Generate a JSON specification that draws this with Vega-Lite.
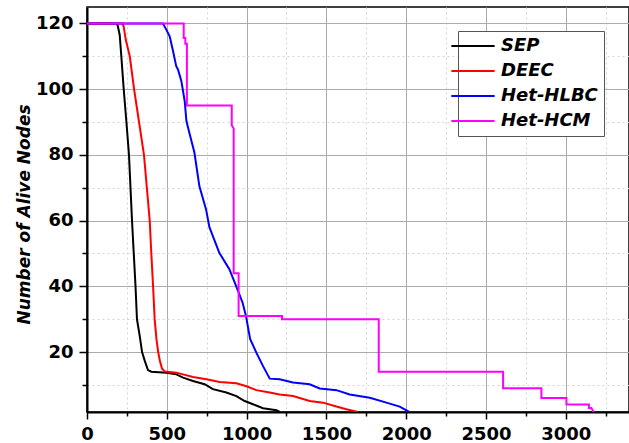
{
  "$schema": "https://vega.github.io/schema/vega-lite/v6.json",
  "width": 542,
  "height": 405,
  "autosize": {"type": "none"},
  "padding": {"left": 87, "top": 7, "right": 0, "bottom": 31},
  "background": "white",
  "config": {
    "font": "DejaVu Sans",
    "view": {"stroke": "black", "strokeWidth": 1.5}
  },
  "data": {
    "values": [
      {"s": "SEP", "i": 0, "x": 0, "y": 120},
      {"s": "SEP", "i": 1, "x": 184, "y": 120},
      {"s": "SEP", "i": 2, "x": 192, "y": 119.4},
      {"s": "SEP", "i": 3, "x": 205, "y": 116.5},
      {"s": "SEP", "i": 4, "x": 215, "y": 110},
      {"s": "SEP", "i": 5, "x": 230, "y": 100},
      {"s": "SEP", "i": 6, "x": 247, "y": 90},
      {"s": "SEP", "i": 7, "x": 263, "y": 80},
      {"s": "SEP", "i": 8, "x": 282, "y": 60},
      {"s": "SEP", "i": 9, "x": 293, "y": 50},
      {"s": "SEP", "i": 10, "x": 304, "y": 40},
      {"s": "SEP", "i": 11, "x": 313, "y": 30},
      {"s": "SEP", "i": 12, "x": 330, "y": 25},
      {"s": "SEP", "i": 13, "x": 345, "y": 20},
      {"s": "SEP", "i": 14, "x": 362, "y": 17.3},
      {"s": "SEP", "i": 15, "x": 382, "y": 14.5},
      {"s": "SEP", "i": 16, "x": 403, "y": 14},
      {"s": "SEP", "i": 17, "x": 497, "y": 13.7},
      {"s": "SEP", "i": 18, "x": 560, "y": 13.2},
      {"s": "SEP", "i": 19, "x": 602, "y": 12.2},
      {"s": "SEP", "i": 20, "x": 664, "y": 11.2},
      {"s": "SEP", "i": 21, "x": 737, "y": 10.2},
      {"s": "SEP", "i": 22, "x": 789, "y": 8.7},
      {"s": "SEP", "i": 23, "x": 873, "y": 7.7},
      {"s": "SEP", "i": 24, "x": 936, "y": 6.6},
      {"s": "SEP", "i": 25, "x": 988, "y": 5.1},
      {"s": "SEP", "i": 26, "x": 1040, "y": 4.1},
      {"s": "SEP", "i": 27, "x": 1103, "y": 2.9},
      {"s": "SEP", "i": 28, "x": 1187, "y": 2.3},
      {"s": "SEP", "i": 29, "x": 1208, "y": 1.75},
      {"s": "DEEC", "i": 0, "x": 0, "y": 120},
      {"s": "DEEC", "i": 1, "x": 222, "y": 120},
      {"s": "DEEC", "i": 2, "x": 230, "y": 119},
      {"s": "DEEC", "i": 3, "x": 243, "y": 115},
      {"s": "DEEC", "i": 4, "x": 268, "y": 110},
      {"s": "DEEC", "i": 5, "x": 295, "y": 100},
      {"s": "DEEC", "i": 6, "x": 326, "y": 90},
      {"s": "DEEC", "i": 7, "x": 357, "y": 80},
      {"s": "DEEC", "i": 8, "x": 375, "y": 70},
      {"s": "DEEC", "i": 9, "x": 393, "y": 60},
      {"s": "DEEC", "i": 10, "x": 403, "y": 50},
      {"s": "DEEC", "i": 11, "x": 414, "y": 40},
      {"s": "DEEC", "i": 12, "x": 424, "y": 30},
      {"s": "DEEC", "i": 13, "x": 435, "y": 24},
      {"s": "DEEC", "i": 14, "x": 446, "y": 20},
      {"s": "DEEC", "i": 15, "x": 458, "y": 17},
      {"s": "DEEC", "i": 16, "x": 470, "y": 15},
      {"s": "DEEC", "i": 17, "x": 486, "y": 14.1},
      {"s": "DEEC", "i": 18, "x": 560, "y": 13.7},
      {"s": "DEEC", "i": 19, "x": 602, "y": 13.2},
      {"s": "DEEC", "i": 20, "x": 664, "y": 12.4},
      {"s": "DEEC", "i": 21, "x": 748, "y": 11.7},
      {"s": "DEEC", "i": 22, "x": 832, "y": 10.9},
      {"s": "DEEC", "i": 23, "x": 936, "y": 10.5},
      {"s": "DEEC", "i": 24, "x": 999, "y": 9.6},
      {"s": "DEEC", "i": 25, "x": 1061, "y": 8.4},
      {"s": "DEEC", "i": 26, "x": 1145, "y": 7.7},
      {"s": "DEEC", "i": 27, "x": 1207, "y": 7.1},
      {"s": "DEEC", "i": 28, "x": 1291, "y": 6.6},
      {"s": "DEEC", "i": 29, "x": 1395, "y": 5.1},
      {"s": "DEEC", "i": 30, "x": 1479, "y": 4.6},
      {"s": "DEEC", "i": 31, "x": 1563, "y": 3.4},
      {"s": "DEEC", "i": 32, "x": 1625, "y": 2.6},
      {"s": "DEEC", "i": 33, "x": 1698, "y": 1.75},
      {"s": "Het-HLBC", "i": 0, "x": 0, "y": 120},
      {"s": "Het-HLBC", "i": 1, "x": 476, "y": 120},
      {"s": "Het-HLBC", "i": 2, "x": 496, "y": 118.2},
      {"s": "Het-HLBC", "i": 3, "x": 518, "y": 116.1},
      {"s": "Het-HLBC", "i": 4, "x": 539, "y": 111.6},
      {"s": "Het-HLBC", "i": 5, "x": 559, "y": 107},
      {"s": "Het-HLBC", "i": 6, "x": 570, "y": 106},
      {"s": "Het-HLBC", "i": 7, "x": 591, "y": 102.5},
      {"s": "Het-HLBC", "i": 8, "x": 612, "y": 96.4},
      {"s": "Het-HLBC", "i": 9, "x": 623, "y": 90.3},
      {"s": "Het-HLBC", "i": 10, "x": 644, "y": 86.2},
      {"s": "Het-HLBC", "i": 11, "x": 673, "y": 80.7},
      {"s": "Het-HLBC", "i": 12, "x": 704, "y": 70.5},
      {"s": "Het-HLBC", "i": 13, "x": 746, "y": 63.4},
      {"s": "Het-HLBC", "i": 14, "x": 767, "y": 58},
      {"s": "Het-HLBC", "i": 15, "x": 829, "y": 50.2},
      {"s": "Het-HLBC", "i": 16, "x": 892, "y": 45.2},
      {"s": "Het-HLBC", "i": 17, "x": 934, "y": 40.1},
      {"s": "Het-HLBC", "i": 18, "x": 975, "y": 35},
      {"s": "Het-HLBC", "i": 19, "x": 996, "y": 31},
      {"s": "Het-HLBC", "i": 20, "x": 1022, "y": 24},
      {"s": "Het-HLBC", "i": 21, "x": 1061, "y": 19.8},
      {"s": "Het-HLBC", "i": 22, "x": 1103, "y": 15.7},
      {"s": "Het-HLBC", "i": 23, "x": 1145, "y": 11.9},
      {"s": "Het-HLBC", "i": 24, "x": 1207, "y": 11.7},
      {"s": "Het-HLBC", "i": 25, "x": 1291, "y": 10.7},
      {"s": "Het-HLBC", "i": 26, "x": 1395, "y": 10.2},
      {"s": "Het-HLBC", "i": 27, "x": 1458, "y": 8.9},
      {"s": "Het-HLBC", "i": 28, "x": 1563, "y": 8.4},
      {"s": "Het-HLBC", "i": 29, "x": 1646, "y": 7.1},
      {"s": "Het-HLBC", "i": 30, "x": 1772, "y": 6.1},
      {"s": "Het-HLBC", "i": 31, "x": 1876, "y": 4.6},
      {"s": "Het-HLBC", "i": 32, "x": 1959, "y": 3.4},
      {"s": "Het-HLBC", "i": 33, "x": 2011, "y": 2.0},
      {"s": "Het-HLBC", "i": 34, "x": 2020, "y": 1.75},
      {"s": "Het-HCM", "i": 0, "x": 0, "y": 120},
      {"s": "Het-HCM", "i": 1, "x": 606, "y": 120},
      {"s": "Het-HCM", "i": 2, "x": 606, "y": 115.6},
      {"s": "Het-HCM", "i": 3, "x": 616, "y": 115.6},
      {"s": "Het-HCM", "i": 4, "x": 616, "y": 113.8},
      {"s": "Het-HCM", "i": 5, "x": 626, "y": 113.8},
      {"s": "Het-HCM", "i": 6, "x": 626, "y": 95},
      {"s": "Het-HCM", "i": 7, "x": 907, "y": 95},
      {"s": "Het-HCM", "i": 8, "x": 907, "y": 89},
      {"s": "Het-HCM", "i": 9, "x": 919, "y": 88},
      {"s": "Het-HCM", "i": 10, "x": 919, "y": 44},
      {"s": "Het-HCM", "i": 11, "x": 950, "y": 44},
      {"s": "Het-HCM", "i": 12, "x": 950, "y": 31},
      {"s": "Het-HCM", "i": 13, "x": 1222, "y": 31},
      {"s": "Het-HCM", "i": 14, "x": 1222, "y": 30},
      {"s": "Het-HCM", "i": 15, "x": 1828, "y": 30},
      {"s": "Het-HCM", "i": 16, "x": 1828, "y": 14},
      {"s": "Het-HCM", "i": 17, "x": 2607, "y": 14},
      {"s": "Het-HCM", "i": 18, "x": 2607, "y": 9},
      {"s": "Het-HCM", "i": 19, "x": 2847, "y": 9},
      {"s": "Het-HCM", "i": 20, "x": 2847, "y": 6},
      {"s": "Het-HCM", "i": 21, "x": 3004, "y": 6},
      {"s": "Het-HCM", "i": 22, "x": 3004, "y": 4},
      {"s": "Het-HCM", "i": 23, "x": 3145, "y": 4},
      {"s": "Het-HCM", "i": 24, "x": 3145, "y": 3},
      {"s": "Het-HCM", "i": 25, "x": 3160, "y": 3},
      {"s": "Het-HCM", "i": 26, "x": 3175, "y": 1.75}
    ]
  },
  "mark": {"type": "line", "strokeWidth": 2, "clip": true},
  "encoding": {
    "x": {
      "field": "x",
      "type": "quantitative",
      "scale": {"domain": [0, 3396], "nice": false, "zero": false},
      "axis": {
        "title": null,
        "values": [0, 250, 500, 750, 1000, 1250, 1500, 1750, 2000, 2250, 2500, 2750, 3000, 3250],
        "labelExpr": "datum.value % 500 === 0 ? format(datum.value, 'd') : ''",
        "labelFont": "DejaVu Sans",
        "labelFontWeight": "bold",
        "labelFontSize": 18,
        "labelColor": "black",
        "labelPadding": 6,
        "labelFlush": false,
        "labelOverlap": false,
        "domainColor": "black",
        "domainWidth": 2,
        "tickColor": "black",
        "tickWidth": 1.5,
        "tickSize": {"condition": {"test": "datum.value % 500 !== 0", "value": 4}, "value": 7},
        "grid": true,
        "gridColor": {"condition": {"test": "datum.value % 500 !== 0", "value": "#d4d4d4"}, "value": "#ababab"},
        "gridDash": {"condition": {"test": "datum.value % 500 !== 0", "value": [2, 3]}, "value": []},
        "gridWidth": 1
      }
    },
    "y": {
      "field": "y",
      "type": "quantitative",
      "scale": {"domain": [1.75, 125], "nice": false, "zero": false},
      "axis": {
        "title": "Number of Alive Nodes",
        "titleFont": "DejaVu Sans",
        "titleFontWeight": "bold",
        "titleFontStyle": "italic",
        "titleFontSize": 17,
        "titleColor": "black",
        "titleBaseline": "alphabetic",
        "titleX": -58,
        "titleY": 207,
        "values": [10, 20, 30, 40, 50, 60, 70, 80, 90, 100, 110, 120],
        "labelExpr": "datum.value % 20 === 0 ? datum.label : ''",
        "labelFont": "DejaVu Sans",
        "labelFontWeight": "bold",
        "labelFontSize": 18,
        "labelColor": "black",
        "labelPadding": 6,
        "labelFlush": false,
        "labelOverlap": false,
        "domainColor": "black",
        "domainWidth": 2,
        "tickColor": "black",
        "tickWidth": 1.5,
        "tickSize": {"condition": {"test": "datum.value % 20 !== 0", "value": 5}, "value": 8},
        "grid": true,
        "gridColor": {"condition": {"test": "datum.value % 20 !== 0", "value": "#d4d4d4"}, "value": "#ababab"},
        "gridDash": {"condition": {"test": "datum.value % 20 !== 0", "value": [2, 3]}, "value": []},
        "gridWidth": 1
      }
    },
    "color": {
      "field": "s",
      "type": "nominal",
      "scale": {
        "domain": ["SEP", "DEEC", "Het-HLBC", "Het-HCM"],
        "range": ["#000000", "#ff0000", "#0000ff", "#ff00ff"]
      },
      "legend": {
        "title": null,
        "orient": "none",
        "legendX": 371,
        "legendY": 24,
        "fillColor": "white",
        "strokeColor": "#555555",
        "padding": 6,
        "rowPadding": 7,
        "symbolType": "M-6.4,0h0M-5,0H5",
        "symbolSize": 75,
        "symbolStrokeWidth": 2,
        "labelFont": "DejaVu Sans",
        "labelFontWeight": "bold",
        "labelFontStyle": "italic",
        "labelFontSize": 18,
        "labelColor": "black",
        "labelOffset": 19,
        "labelLimit": 300
      }
    },
    "order": {"field": "i", "type": "quantitative"}
  }
}
